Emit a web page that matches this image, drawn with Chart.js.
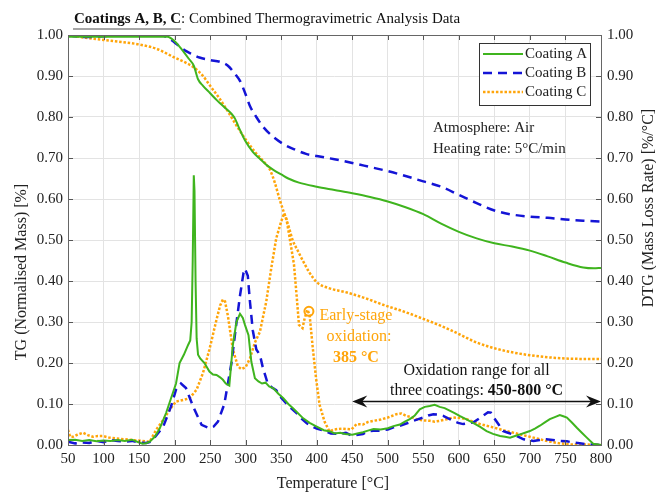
<!DOCTYPE html>
<html>
<head>
<meta charset="utf-8">
<title>Coatings A, B, C - TGA</title>
<script src="https://cdn.jsdelivr.net/npm/chart.js@4.4.0/dist/chart.umd.min.js"></script>
<style>
  html, body { margin: 0; padding: 0; background: #fff; }
  canvas { display: block; }
</style>
</head>
<body>
<canvas id="tgaChart" width="656" height="494"></canvas>
<script>
// TG curves (normalised mass)
const tgTempA = [50,100,150,190,200,210,220,227,233,240,250,260,270,280,285,290,300,310,320,330,340,350,360,375,400,425,450,475,500,525,550,575,600,625,650,675,700,725,750,775,790,800];
const tgA     = [0.996,0.996,0.996,0.996,0.985,0.965,0.942,0.925,0.892,0.876,0.858,0.840,0.824,0.808,0.796,0.776,0.740,0.715,0.698,0.682,0.670,0.660,0.650,0.640,0.630,0.622,0.614,0.605,0.594,0.580,0.563,0.540,0.520,0.504,0.492,0.484,0.474,0.460,0.445,0.433,0.431,0.432];

const tgTempB = [50,60,75,100,125,150,175,185,195,205,215,225,235,250,265,275,285,292,300,306,315,325,340,355,370,385,400,425,450,475,500,525,550,575,600,625,650,675,700,725,750,775,800];
const tgB     = [1.0,0.997,0.995,0.997,1.0,1.003,1.003,0.998,0.988,0.975,0.962,0.953,0.945,0.939,0.934,0.925,0.905,0.888,0.855,0.827,0.800,0.775,0.750,0.732,0.720,0.710,0.705,0.697,0.688,0.678,0.668,0.656,0.643,0.630,0.610,0.590,0.572,0.562,0.557,0.554,0.550,0.547,0.545];

const tgTempC = [50,75,100,125,150,175,200,215,227,240,250,262,273,285,300,313,326,334,341,348,355,361,366,373,380,390,400,418,440,470,495,520,545,570,590,610,625,650,675,700,725,750,775,800];
const tgC     = [1.0,0.993,0.988,0.983,0.977,0.966,0.945,0.933,0.921,0.900,0.876,0.848,0.819,0.785,0.745,0.715,0.690,0.672,0.640,0.598,0.561,0.530,0.500,0.475,0.451,0.420,0.397,0.382,0.373,0.357,0.341,0.327,0.311,0.294,0.279,0.262,0.250,0.236,0.226,0.219,0.214,0.211,0.210,0.210];

// DTG curves (mass loss rate)
const dtgTempA = [50,60,70,80,90,100,110,120,130,140,
  150,155,160,165,172,179,188,195,202,207,
  213,219,222,224,225.5,227,228,229.5,231,233,
  236,242,249,254,259,264,268,272,277,282,
  287,292,296,299,304,308,313,318,323,328,
  333,339,346,353,360,367,374,381,390,400,
  410,419,425,433,440,450,457,465,472,480,
  490,500,508,517,524,531,538,545,552,559,
  566,573,580,587,594,601,610,620,630,639,
  648,658,665,672,679,686,693,700,707,714,
  721,728,735,742,747,752,759,766,773,780,
  789,800];
const dtgA = [0.012,0.013,0.010,0.012,0.009,0.011,0.010,0.012,0.010,0.013,
  0.006,0.003,0.004,0.008,0.020,0.040,0.078,0.114,0.150,0.200,
  0.220,0.244,0.255,0.300,0.450,0.658,0.620,0.400,0.260,0.220,
  0.211,0.200,0.179,0.172,0.171,0.165,0.159,0.150,0.145,0.244,
  0.300,0.320,0.310,0.293,0.268,0.203,0.163,0.155,0.150,0.152,
  0.143,0.138,0.125,0.114,0.100,0.089,0.077,0.065,0.054,0.045,
  0.036,0.033,0.028,0.030,0.027,0.025,0.028,0.031,0.035,0.039,
  0.038,0.041,0.046,0.050,0.057,0.063,0.072,0.087,0.093,0.095,
  0.098,0.093,0.090,0.084,0.078,0.071,0.063,0.054,0.044,0.034,
  0.027,0.022,0.020,0.018,0.022,0.026,0.030,0.034,0.040,0.047,
  0.055,0.063,0.068,0.073,0.070,0.067,0.055,0.042,0.030,0.018,
  0.003,0.000];

const dtgTempB = [50,60,70,80,90,100,110,120,130,140,
  150,160,167,175,184,195,202,209,216,226,
  238,249,255,261,270,280,287,292,297,299,
  303,306,310,315,320,324,331,337,343,350,
  358,365,372,379,386,393,400,410,420,433,
  441,450,458,465,472,480,490,500,508,517,
  527,536,543,550,557,564,571,578,585,592,
  599,606,613,620,627,634,641,645,650,656,
  662,669,676,684,691,698,705,714,723,732,
  742,752,761,770,780,790,800];
const dtgB = [0.008,0.004,0.006,0.005,0.010,0.007,0.012,0.010,0.008,0.010,
  0.006,0.005,0.008,0.025,0.045,0.094,0.135,0.150,0.139,0.094,
  0.049,0.041,0.045,0.057,0.100,0.200,0.298,0.364,0.420,0.430,
  0.413,0.350,0.280,0.233,0.220,0.190,0.150,0.140,0.134,0.115,
  0.100,0.088,0.077,0.064,0.053,0.046,0.040,0.035,0.028,0.027,
  0.030,0.022,0.025,0.027,0.033,0.035,0.035,0.038,0.043,0.047,
  0.053,0.059,0.063,0.067,0.072,0.075,0.074,0.071,0.065,0.059,
  0.054,0.051,0.053,0.055,0.063,0.071,0.080,0.079,0.065,0.050,
  0.034,0.030,0.026,0.020,0.014,0.012,0.010,0.012,0.014,0.012,
  0.010,0.009,0.006,0.004,0.002,0.001,0.000];

const dtgTempC = [50,53,57,63,71,78,85,92,99,108,
  118,130,141,153,165,174,184,193,202,212,
  221,231,240,249,259,264,268,271,275,282,
  289,294,300,306,313,320,329,336,343,350,
  354,357,362,368,372,375,380,383,387,390,
  394,399,404,411,418,425,435,449,456,465,
  472,480,490,500,512,519,526,533,540,550,
  559,566,573,583,592,601,611,620,630,648,
  667,686,705,723,742,760,780,800];
const dtgC = [0.037,0.020,0.020,0.025,0.030,0.024,0.020,0.022,0.022,0.018,
  0.016,0.014,0.012,0.010,0.008,0.037,0.061,0.086,0.106,0.110,
  0.114,0.135,0.176,0.233,0.306,0.340,0.355,0.350,0.315,0.233,
  0.192,0.185,0.190,0.211,0.250,0.276,0.350,0.431,0.504,0.545,
  0.565,0.555,0.504,0.440,0.358,0.293,0.285,0.309,0.330,0.317,
  0.244,0.163,0.098,0.057,0.033,0.038,0.040,0.038,0.051,0.050,
  0.056,0.059,0.062,0.067,0.075,0.077,0.071,0.068,0.063,0.060,
  0.059,0.057,0.059,0.063,0.067,0.066,0.063,0.057,0.051,0.043,
  0.034,0.026,0.018,0.010,0.004,0.001,0.001,0.000];

// annotation anchors
const earlyPoint = { t: 389, v: 0.326 };
const oxRange = [450, 800];
const oxArrowLevel = 0.107;

const GREEN = '#3fb41e';
const BLUE = '#1414d6';
const ORANGE = '#ffa50a';
const FONT = '"Liberation Serif", "DejaVu Serif", serif';

function pairs(xs, ys) {
  if (xs.length !== ys.length) throw new Error('length mismatch ' + xs.length + ' vs ' + ys.length);
  return xs.map((x, i) => ({ x: x, y: ys[i] }));
}

const styleA = { borderColor: GREEN, borderWidth: 2, borderDash: [] };
const styleB = { borderColor: BLUE, borderWidth: 2.5, borderDash: [9, 6] };
const styleC = { borderColor: ORANGE, borderWidth: 2.5, borderDash: [2.5, 1.8] };

function line(label, data, axis, style, smooth) {
  return Object.assign({
    label: label, data: data, yAxisID: axis,
    pointRadius: 0, fill: false, tension: 0,
    cubicInterpolationMode: smooth ? 'monotone' : 'default'
  }, style);
}

// frame, inward ticks, legend, notes, titles
const decor = {
  id: 'decor',
  afterDatasetsDraw(chart) {
    const ctx = chart.ctx;
    const a = chart.chartArea;
    const x = chart.scales.x, y = chart.scales.y, y2 = chart.scales.y2;
    ctx.save();
    ctx.setLineDash([]);
    ctx.strokeStyle = '#555';
    ctx.lineWidth = 1;
    ctx.beginPath();
    x.ticks.forEach(t => {
      const px = Math.round(x.getPixelForValue(t.value)) + 0.5;
      ctx.moveTo(px, a.top); ctx.lineTo(px, a.top + 5);
      ctx.moveTo(px, a.bottom); ctx.lineTo(px, a.bottom - 5);
    });
    y.ticks.forEach(t => {
      const py = Math.round(y.getPixelForValue(t.value)) + 0.5;
      ctx.moveTo(a.left, py); ctx.lineTo(a.left + 5, py);
      ctx.moveTo(a.right, py); ctx.lineTo(a.right - 5, py);
    });
    ctx.stroke();
    ctx.strokeStyle = '#666';
    ctx.strokeRect(Math.round(a.left) + 0.5, Math.round(a.top) + 0.5, Math.round(a.right - a.left), Math.round(a.bottom - a.top));

    // legend box
    const lx = 479, ly = 43, lw = 111, lh = 62;
    ctx.fillStyle = '#fff';
    ctx.fillRect(lx, ly, lw, lh);
    ctx.strokeStyle = '#333';
    ctx.strokeRect(lx + 0.5, ly + 0.5, lw, lh);
    const entries = [chart.data.datasets[0], chart.data.datasets[1], chart.data.datasets[2]];
    ctx.font = '15px ' + FONT;
    ctx.textBaseline = 'middle';
    ctx.textAlign = 'left';
    entries.forEach((ds, i) => {
      const ry = ly + 11 + i * 19;
      ctx.strokeStyle = ds.borderColor;
      ctx.lineWidth = ds.borderWidth;
      ctx.setLineDash(ds.borderDash || []);
      ctx.beginPath();
      ctx.moveTo(lx + 4, ry); ctx.lineTo(lx + 44, ry);
      ctx.stroke();
      ctx.setLineDash([]);
      ctx.fillStyle = '#222';
      ctx.fillText(ds.label, lx + 46, ry);
    });

    // conditions
    ctx.textBaseline = 'alphabetic';
    ctx.fillStyle = '#222';
    ctx.fillText('Atmosphere: Air', 433, 132);
    ctx.fillText('Heating rate: 5\u00B0C/min', 433, 153);

    // early-stage oxidation marker
    const mx = x.getPixelForValue(earlyPoint.t), my = y2.getPixelForValue(earlyPoint.v);
    ctx.strokeStyle = ORANGE;
    ctx.lineWidth = 2;
    ctx.beginPath();
    ctx.arc(mx, my, 4.5, 0, Math.PI * 2);
    ctx.stroke();
    ctx.fillStyle = ORANGE;
    ctx.font = '16px ' + FONT;
    ctx.textAlign = 'center';
    ctx.fillText('Early-stage', mx + 47, my + 9);
    ctx.fillText('oxidation:', mx + 50, my + 30);
    ctx.font = 'bold 16px ' + FONT;
    ctx.fillText('385 \u00B0C', mx + 47, my + 51);

    // oxidation range arrow
    const x0 = x.getPixelForValue(oxRange[0]), x1 = x.getPixelForValue(oxRange[1]);
    const ay = Math.round(y2.getPixelForValue(oxArrowLevel)) + 0.5;
    ctx.strokeStyle = '#111';
    ctx.fillStyle = '#111';
    ctx.lineWidth = 1.5;
    ctx.beginPath();
    ctx.moveTo(x0 + 6, ay); ctx.lineTo(x1 - 6, ay);
    ctx.stroke();
    [[x0, 1], [x1, -1]].forEach(([tx, d]) => {
      ctx.beginPath();
      ctx.moveTo(tx, ay);
      ctx.lineTo(tx + d * 15, ay - 6);
      ctx.lineTo(tx + d * 10, ay);
      ctx.lineTo(tx + d * 15, ay + 6);
      ctx.closePath();
      ctx.fill();
    });
    const cx = (x0 + x1) / 2;
    ctx.font = '16px ' + FONT;
    ctx.textAlign = 'center';
    ctx.fillText('Oxidation range for all', cx, ay - 27);
    const p1 = 'three coatings: ', p2 = '450-800 \u00B0C';
    ctx.font = '16px ' + FONT;
    const w1 = ctx.measureText(p1).width;
    ctx.font = 'bold 16px ' + FONT;
    const w2 = ctx.measureText(p2).width;
    const sx = cx - (w1 + w2) / 2;
    ctx.textAlign = 'left';
    ctx.font = '16px ' + FONT;
    ctx.fillText(p1, sx, ay - 7);
    ctx.font = 'bold 16px ' + FONT;
    ctx.fillText(p2, sx + w1, ay - 7);
    ctx.restore();
  },
  afterDraw(chart) {
    const ctx = chart.ctx;
    ctx.save();
    // title
    const bold = 'Coatings A, B, C';
    const rest = ': Combined Thermogravimetric Analysis Data';
    ctx.fillStyle = '#111';
    ctx.textAlign = 'left';
    ctx.textBaseline = 'alphabetic';
    ctx.font = 'bold 15px ' + FONT;
    const wb = ctx.measureText(bold).width;
    ctx.fillText(bold, 74, 23);
    ctx.font = '15px ' + FONT;
    ctx.fillText(rest, 74 + wb, 23);
    ctx.strokeStyle = '#888';
    ctx.lineWidth = 1.5;
    ctx.beginPath();
    ctx.moveTo(73, 29); ctx.lineTo(74 + wb, 29);
    ctx.stroke();

    // axis titles
    ctx.fillStyle = '#222';
    ctx.font = '16px ' + FONT;
    ctx.textAlign = 'center';
    ctx.fillText('Temperature [\u00B0C]', 333, 488);
    ctx.save();
    ctx.translate(26, 272);
    ctx.rotate(-Math.PI / 2);
    ctx.fillText('TG (Normalised Mass) [%]', 0, 0);
    ctx.restore();
    ctx.save();
    ctx.translate(653, 208);
    ctx.rotate(-Math.PI / 2);
    ctx.fillText('DTG (Mass Loss Rate) [%/\u00B0C]', 0, 0);
    ctx.restore();
    ctx.restore();
  }
};

const tickFont = { family: FONT, size: 15 };
const fmt = v => Number(v).toFixed(2);

new Chart(document.getElementById('tgaChart'), {
  type: 'line',
  data: {
    datasets: [
      line('Coating A', pairs(tgTempA, tgA), 'y', styleA, true),
      line('Coating B', pairs(tgTempB, tgB), 'y', styleB, true),
      line('Coating C', pairs(tgTempC, tgC), 'y', styleC, true),
      line('Coating A', pairs(dtgTempA, dtgA), 'y2', styleA, false),
      line('Coating B', pairs(dtgTempB, dtgB), 'y2', styleB, false),
      line('Coating C', pairs(dtgTempC, dtgC), 'y2', styleC, false)
    ]
  },
  options: {
    responsive: false,
    animation: false,
    devicePixelRatio: 1,
    layout: { padding: { top: 35, left: 0, right: 0, bottom: 0 } },
    plugins: { legend: { display: false }, tooltip: { enabled: false } },
    scales: {
      x: {
        type: 'linear', min: 50, max: 800,
        ticks: { stepSize: 50, font: tickFont, color: '#222', padding: 5, maxRotation: 0, autoSkip: false },
        grid: { color: '#e3e3e3', drawTicks: false },
        border: { display: false },
        afterFit: s => { s.height = 49; }
      },
      y: {
        position: 'left', min: 0, max: 1,
        ticks: { stepSize: 0.1, font: tickFont, color: '#222', padding: 5, callback: fmt },
        grid: { color: '#e3e3e3', drawTicks: false },
        border: { display: false },
        afterFit: s => { s.width = 68; }
      },
      y2: {
        position: 'right', min: 0, max: 1,
        ticks: { stepSize: 0.1, font: tickFont, color: '#222', padding: 6, callback: fmt },
        grid: { display: false, drawTicks: false },
        border: { display: false },
        afterFit: s => { s.width = 55; }
      }
    }
  },
  plugins: [decor]
});
</script>
</body>
</html>
